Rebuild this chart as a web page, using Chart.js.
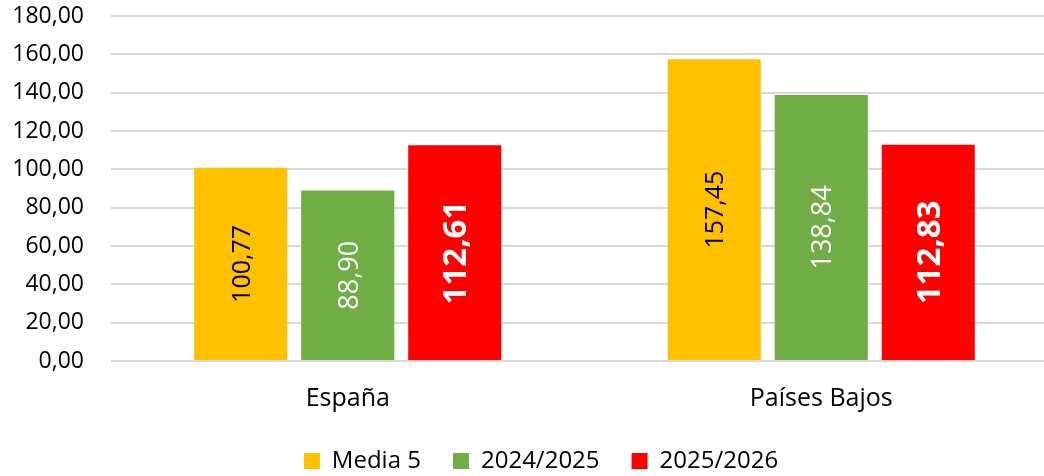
<!DOCTYPE html>
<html>
<head>
<meta charset="utf-8">
<title>Media 5, 2024/2025 y 2025/2026</title>
<script src="https://cdn.jsdelivr.net/npm/chart.js@4.4.1/dist/chart.umd.min.js"></script>
<style>
  html, body { margin: 0; padding: 0; overflow: hidden; background: #ffffff; }
  #wrap { width: 1060px; height: 483px; }
</style>
</head>
<body>
<div id="wrap"><canvas id="chart" width="1060" height="483"></canvas></div>
<script>
// Categories and series
const categories = ['España', 'Países Bajos'];
const seriesNames = ['Media 5', '2024/2025', '2025/2026'];
const media5 = [100.77, 157.45];
const season2425 = [88.90, 138.84];
const season2526 = [112.61, 112.83];

// Value axis
const yMin = 0;
const yMax = 180;
const yStep = 20;

const FONT = '"Open Sans"';
const fmt = v => v.toFixed(2).replace('.', ',');

// Rotated value labels centred inside each bar
const barLabels = {
  id: 'barLabels',
  afterDatasetsDraw(chart) {
    const ctx = chart.ctx;
    chart.data.datasets.forEach((ds, i) => {
      const meta = chart.getDatasetMeta(i);
      if (meta.hidden) return;
      const st = ds.valueLabel;
      meta.data.forEach((bar, j) => {
        const text = fmt(ds.data[j]);
        ctx.save();
        ctx.font = `${st.weight} ${st.size}px ${FONT}`;
        ctx.fillStyle = st.color;
        ctx.textAlign = 'center';
        ctx.textBaseline = 'alphabetic';
        const asc = ctx.measureText('0').actualBoundingBoxAscent;
        ctx.translate(bar.x, (bar.y + bar.base) / 2);
        ctx.rotate(-Math.PI / 2);
        ctx.fillText(text, 0, asc / 2);
        ctx.restore();
      });
    });
  }
};

// Centre the legend row on the span right of the value labels
const legendShift = {
  id: 'legendShift',
  afterLayout(chart) {
    if (chart.legend) chart.legend.left = 24;
  }
};

new Chart(document.getElementById('chart'), {
  type: 'bar',
  data: {
    labels: categories,
    datasets: [
      {
        label: seriesNames[0],
        data: media5,
        backgroundColor: '#FFC000',
        valueLabel: { color: '#000000', size: 25, weight: 'normal' }
      },
      {
        label: seriesNames[1],
        data: season2425,
        backgroundColor: '#70AD47',
        valueLabel: { color: '#ffffff', size: 27, weight: 'normal' }
      },
      {
        label: seriesNames[2],
        data: season2526,
        backgroundColor: '#FF0000',
        valueLabel: { color: '#ffffff', size: 33, weight: 'bold' }
      }
    ]
  },
  options: {
    responsive: false,
    animation: false,
    devicePixelRatio: 1,
    layout: { padding: { left: 0, right: 2, top: 16, bottom: 0 } },
    datasets: {
      bar: { categoryPercentage: 0.678, barPercentage: 0.87 }
    },
    plugins: {
      legend: {
        position: 'bottom',
        labels: {
          boxWidth: 16,
          boxHeight: 16,
          padding: 32,
          color: '#000000',
          font: { family: FONT, size: 24 }
        }
      },
      tooltip: { enabled: false }
    },
    scales: {
      x: {
        grid: { display: false, drawTicks: false },
        border: { display: false },
        ticks: {
          padding: 23,
          color: '#000000',
          font: { family: FONT, size: 25 }
        },
        afterFit(scale) { scale.height = 56; }
      },
      y: {
        min: yMin,
        max: yMax,
        grid: { color: '#d9d9d9', lineWidth: 2, drawTicks: false },
        border: { display: false },
        ticks: {
          stepSize: yStep,
          padding: 27,
          color: '#000000',
          font: { family: FONT, size: 23 },
          callback: v => fmt(v)
        },
        afterFit(scale) {
          scale.width = 111;
          scale.paddingTop = 0;
          scale.paddingBottom = 0;
        }
      }
    }
  },
  plugins: [barLabels, legendShift]
});
</script>
</body>
</html>
